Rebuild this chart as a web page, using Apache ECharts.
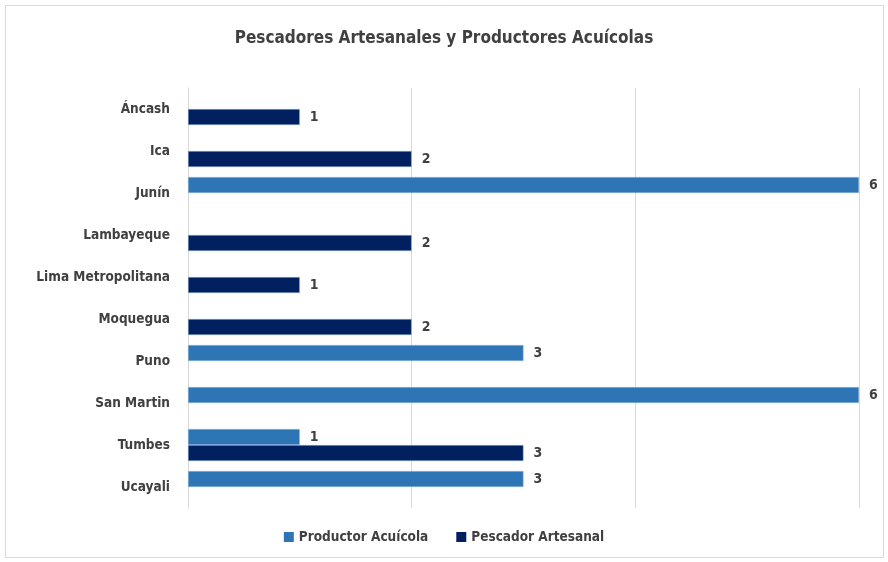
<!DOCTYPE html>
<html>
<head>
<meta charset="utf-8">
<script src="https://cdn.jsdelivr.net/npm/echarts@6/dist/echarts.min.js"></script>
<style>html,body{margin:0;padding:0;background:#fff;}#c{width:888px;height:562px;}</style>
</head>
<body>
<div id="c"></div>
<script>
const categories = ['Áncash','Ica','Junín','Lambayeque','Lima Metropolitana','Moquegua','Puno','San Martin','Tumbes','Ucayali'];
const productorAcuicola = [null,null,6,null,null,null,3,6,1,3];
const pescadorArtesanal = [1,2,null,2,1,2,null,null,3,null];
const seriesNames = ['Productor Acuícola','Pescador Artesanal'];
const FONT = '"DejaVu Sans Condensed", "Liberation Sans Narrow", sans-serif';
const chart = echarts.init(document.getElementById('c'));
const lbl = {show:true, position:'right', distance:10, color:'#404040', fontFamily:FONT, fontWeight:'bold', fontSize:14};
chart.setOption({
  animation:false,
  textStyle:{fontFamily:FONT},
  title:{text:'Pescadores Artesanales y Productores Acuícolas', left:'center', top:25,
    textStyle:{fontFamily:FONT, fontSize:17, fontWeight:'bold', color:'#404040'}},
  graphic:[{type:'rect', shape:{x:5.5,y:5.5,width:878,height:552}, style:{fill:'none', stroke:'#d9d9d9', lineWidth:1}, silent:true, z:-1}],
  legend:{bottom:13, left:'center', itemWidth:10, itemHeight:10, itemGap:28, icon:'rect',
    itemStyle:{borderWidth:0},
    textStyle:{fontFamily:FONT, fontSize:13.5, fontWeight:'bold', color:'#404040'}, data:seriesNames},
  grid:{left:188, right:29, top:88, bottom:54, containLabel:false},
  xAxis:{type:'value', min:0, max:6, interval:2, axisLabel:{show:false}, axisLine:{show:false}, axisTick:{show:false},
    splitLine:{lineStyle:{color:'#d9d9d9'}}},
  yAxis:{type:'category', inverse:true, data:categories, axisTick:{show:false},
    axisLine:{lineStyle:{color:'#d9d9d9'}},
    axisLabel:{margin:18, color:'#404040', fontFamily:FONT, fontWeight:'bold', fontSize:13.5}},
  series:[
    {name:seriesNames[0], type:'bar', data:productorAcuicola, barWidth:16, barGap:'0%',
      itemStyle:{color:'#2E75B6', borderColor:'#9dc3e6', borderWidth:0.5}, label:lbl},
    {name:seriesNames[1], type:'bar', data:pescadorArtesanal, barWidth:16, barGap:'0%',
      itemStyle:{color:'#002060', borderColor:'#9dc3e6', borderWidth:0.5}, label:lbl}
  ]
});
</script>
</body>
</html>
